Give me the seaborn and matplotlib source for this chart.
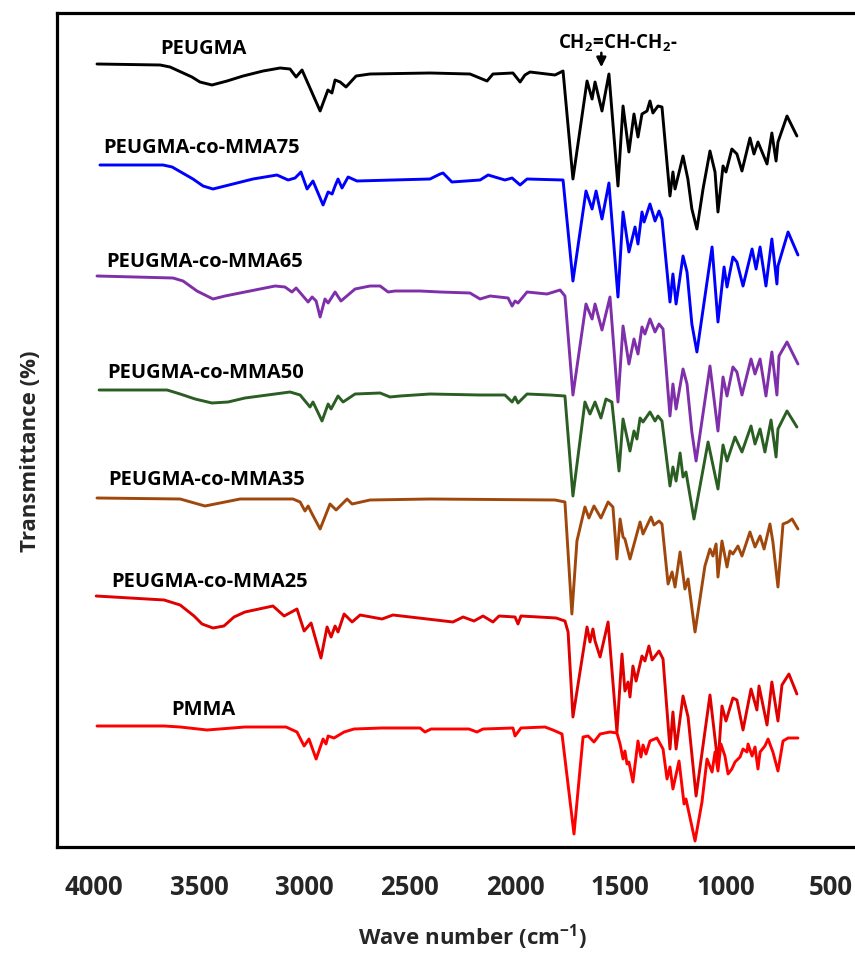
import matplotlib
matplotlib.use("Agg")
import matplotlib.pyplot as plt
import numpy as np
import pandas as pd
import seaborn as sns

# ---- FTIR spectra (wavenumber in cm^-1, transmittance in offset a.u.) ----
peugma_wn = [3986, 3686, 3639, 3535, 3497, 3440, 3368, 3292, 3197, 3116, 3069, 3040, 3012, 2926,
             2889, 2870, 2855, 2831, 2803, 2755, 2689, 2404, 2214, 2133, 2105, 2010, 1976, 1953,
             1929, 1810, 1772, 1725, 1658, 1634, 1620, 1587, 1554, 1511, 1487, 1459, 1435, 1416,
             1397, 1373, 1359, 1345, 1321, 1302, 1264, 1250, 1240, 1202, 1179, 1160, 1136, 1107,
             1074, 1050, 1036, 1012, 998, 970, 946, 922, 884, 865, 846, 803, 780, 760, 751, 708,
             661]
peugma_t = [785, 784, 782, 772, 767, 764, 768, 773, 778, 781, 780, 772, 779, 738,
            759, 756, 769, 767, 762, 773, 775, 776, 775, 768, 775, 776, 767, 774,
            777, 774, 778, 670, 768, 750, 767, 738, 775, 663, 743, 697, 735, 712,
            735, 738, 748, 736, 743, 742, 653, 677, 660, 693, 670, 640, 620, 660,
            698, 677, 637, 683, 677, 700, 695, 678, 711, 695, 707, 685, 716, 688, 707, 733,
            713]

mma75_wn = [3972, 3672, 3629, 3530, 3482, 3435, 3340, 3245, 3131, 3078, 3045, 3017, 2988, 2960,
            2912, 2888, 2869, 2855, 2841, 2822, 2793, 2751, 2404, 2356, 2342, 2300, 2166, 2128,
            2048, 2014, 1976, 1943, 1772, 1725, 1663, 1634, 1615, 1587, 1554, 1511, 1487, 1459,
            1430, 1416, 1397, 1387, 1359, 1335, 1316, 1302, 1264, 1250, 1235, 1202, 1183, 1160,
            1136, 1064, 1036, 1007, 993, 965, 946, 917, 874, 855, 836, 808, 780, 756, 751, 703,
            656]
mma75_t = [684, 684, 682, 670, 663, 660, 665, 670, 674, 669, 671, 677, 660, 668,
           644, 657, 655, 663, 670, 661, 672, 668, 670, 675, 676, 667, 669, 674,
           669, 671, 664, 670, 669, 568, 658, 640, 658, 630, 666, 552, 637, 597,
           622, 605, 637, 627, 645, 628, 638, 630, 547, 575, 545, 593, 577, 525,
           497, 602, 527, 582, 562, 592, 587, 563, 600, 580, 602, 563, 610, 565, 583, 617,
           594]

mma65_wn = [3986, 3625, 3577, 3511, 3435, 3378, 3283, 3140, 3093, 3060, 3040, 2983, 2964, 2945,
            2926, 2903, 2888, 2855, 2827, 2760, 2689, 2641, 2603, 2570, 2451, 2356, 2214, 2166,
            2119, 2033, 2014, 2000, 1986, 1943, 1848, 1786, 1763, 1725, 1663, 1634, 1620, 1587,
            1549, 1511, 1487, 1459, 1435, 1416, 1397, 1383, 1359, 1335, 1316, 1297, 1264, 1250,
            1235, 1202, 1183, 1160, 1140, 1074, 1036, 1012, 993, 965, 946, 922, 879, 860, 836,
            808, 780, 756, 746, 708, 656]
mma65_t = [573, 571, 568, 558, 550, 553, 557, 563, 562, 557, 561, 547, 552, 548,
           532, 550, 546, 557, 548, 560, 563, 563, 557, 558, 558, 557, 556, 550,
           553, 551, 543, 548, 546, 557, 555, 559, 553, 454, 545, 530, 545, 519,
           552, 447, 523, 485, 510, 495, 522, 515, 530, 517, 525, 520, 433, 465,
           440, 480, 465, 417, 388, 483, 418, 472, 453, 482, 477, 454, 490, 475, 490,
           453, 497, 454, 493, 507, 485]

mma50_wn = [3976, 3653, 3591, 3520, 3440, 3363, 3283, 3069, 3021, 2974, 2960, 2917, 2888, 2874,
            2841, 2817, 2760, 2641, 2594, 2546, 2404, 2166, 2048, 2014, 2000, 1986, 1943, 1834,
            1763, 1725, 1668, 1644, 1620, 1592, 1568, 1540, 1506, 1487, 1454, 1435, 1421, 1406,
            1392, 1359, 1335, 1321, 1302, 1264, 1250, 1235, 1216, 1202, 1188, 1150, 1083, 1036,
            1012, 993, 955, 922, 879, 860, 836, 813, 784, 760, 751, 708, 661]
mma50_t = [459, 459, 455, 450, 446, 447, 451, 457, 454, 442, 447, 428, 445, 440,
           453, 447, 455, 456, 452, 453, 455, 454, 454, 447, 452, 446, 455, 454,
           453, 353, 447, 435, 447, 431, 450, 447, 378, 430, 398, 418, 410, 431,
           427, 437, 428, 433, 428, 363, 382, 368, 396, 372, 377, 330, 407, 360,
           404, 388, 412, 397, 423, 405, 420, 397, 429, 392, 420, 438, 422]

mma35_wn = [3986, 3591, 3473, 3306, 3055, 3021, 2998, 2983, 2964, 2926, 2879, 2850, 2798, 2774,
            2689, 2404, 1810, 1763, 1730, 1706, 1668, 1649, 1625, 1592, 1558, 1535, 1516, 1501,
            1487, 1478, 1454, 1406, 1392, 1354, 1340, 1316, 1302, 1273, 1254, 1240, 1216, 1193,
            1178, 1145, 1098, 1074, 1060, 1045, 1036, 1017, 993, 979, 965, 941, 922, 884, 860,
            836, 817, 789, 775, 751, 727, 703, 684, 656]
mma35_t = [351, 350, 343, 350, 350, 347, 338, 343, 335, 320, 345, 339, 350, 345,
           349, 350, 349, 347, 235, 308, 342, 331, 343, 331, 347, 342, 290, 330,
           312, 310, 290, 327, 315, 332, 324, 328, 325, 265, 277, 262, 297, 260,
           270, 217, 283, 300, 293, 305, 272, 308, 282, 298, 295, 303, 293, 317, 302,
           313, 300, 325, 307, 262, 325, 327, 330, 320]

mma25_wn = [3990, 3667, 3591, 3525, 3487, 3435, 3383, 3335, 3283, 3150, 3097, 3036, 3002, 2969,
            2922, 2893, 2874, 2855, 2841, 2812, 2774, 2736, 2632, 2580, 2295, 2247, 2195, 2152,
            2105, 2076, 2000, 1986, 1972, 1805, 1763, 1748, 1725, 1658, 1644, 1630, 1620, 1596,
            1558, 1516, 1492, 1478, 1463, 1454, 1440, 1425, 1397, 1383, 1364, 1349, 1316, 1297,
            1264, 1250, 1235, 1202, 1178, 1140, 1074, 1036, 1017, 998, 965, 946, 917, 879, 851,
            841, 803, 780, 751, 732, 699, 661]
mma25_t = [253, 249, 244, 233, 225, 221, 223, 232, 237, 243, 233, 240, 218, 226,
           191, 222, 212, 223, 217, 235, 227, 234, 230, 234, 227, 232, 228, 233,
           227, 233, 232, 225, 233, 231, 228, 217, 132, 222, 207, 220, 208, 192,
           227, 117, 195, 158, 167, 152, 183, 168, 193, 188, 203, 189, 198, 190,
           100, 137, 100, 153, 132, 53, 154, 85, 143, 128, 151, 149, 119, 160, 139,
           163, 124, 167, 128, 164, 175, 155]

pmma_wn = [3986, 3667, 3591, 3463, 3283, 3088, 3036, 3002, 2979, 2945, 2912, 2898, 2888, 2860,
           2812, 2765, 2632, 2451, 2428, 2399, 2219, 2181, 2152, 2010, 2000, 1972, 1858, 1820,
           1777, 1720, 1677, 1653, 1625, 1596, 1549, 1516, 1501, 1487, 1478, 1468, 1459, 1440,
           1416, 1402, 1392, 1378, 1359, 1326, 1297, 1278, 1264, 1250, 1221, 1197, 1188, 1145,
           1112, 1088, 1064, 1050, 1036, 1022, 1003, 988, 970, 955, 931, 917, 898, 893, 874,
           860, 846, 836, 813, 798, 775, 751, 727, 703, 656]
pmma_t = [123, 123, 122, 119, 122, 122, 117, 103, 110, 90, 110, 105, 113, 111,
          117, 120, 121, 121, 117, 120, 120, 117, 120, 121, 113, 121, 122, 119,
          115, 15, 112, 113, 107, 115, 117, 116, 105, 90, 98, 85, 87, 67,
          108, 92, 104, 95, 108, 111, 100, 70, 82, 60, 88, 45, 50, 8,
          47, 90, 77, 97, 78, 105, 93, 75, 80, 87, 92, 100, 97, 105, 93,
          102, 80, 97, 103, 110, 97, 78, 108, 111, 111]

samples = ["PEUGMA", "PEUGMA-co-MMA75", "PEUGMA-co-MMA65", "PEUGMA-co-MMA50",
           "PEUGMA-co-MMA35", "PEUGMA-co-MMA25", "PMMA"]
spectra = [(peugma_wn, peugma_t), (mma75_wn, mma75_t), (mma65_wn, mma65_t),
           (mma50_wn, mma50_t), (mma35_wn, mma35_t), (mma25_wn, mma25_t),
           (pmma_wn, pmma_t)]
colors = ["#000000", "#0000FF", "#7F2FAA", "#2A5E22", "#A0470C", "#E00000", "#FF0000"]

x_ticks = [4000, 3500, 3000, 2500, 2000, 1500, 1000, 500]

# ---- long-form table ----
frames = []
for name, (wn, t) in zip(samples, spectra):
    frames.append(pd.DataFrame({"wavenumber": wn, "transmittance": t, "sample": name}))
df = pd.concat(frames, ignore_index=True)

# ---- styling ----
sns.set_style("white")
plt.rcParams["font.family"] = ["Open Sans", "DejaVu Sans"]
plt.rcParams["font.weight"] = "bold"
plt.rcParams["mathtext.fontset"] = "custom"
plt.rcParams["mathtext.rm"] = "Open Sans:bold"
plt.rcParams["mathtext.bf"] = "Open Sans:bold"
plt.rcParams["mathtext.default"] = "bf"

W, H = 855, 954
fig = plt.figure(figsize=(W / 100, H / 100), dpi=100)
ax = fig.add_axes([57 / W, 1 - 848 / H, (875 - 57) / W, (848 - 14) / H])

sns.lineplot(data=df, x="wavenumber", y="transmittance", hue="sample",
             palette=dict(zip(samples, colors)), hue_order=samples,
             estimator=None, sort=False, legend=False, linewidth=2.1, ax=ax)
for line in ax.get_lines():
    line.set_solid_joinstyle("round")
    line.set_solid_capstyle("round")

ax.set_xlim(4176, 290)
ax.set_ylim(2, 836)
ax.set_xticks(x_ticks)
ax.set_xticklabels([str(v) for v in x_ticks], fontsize=18.5, fontweight="bold")
ax.set_yticks([])
ax.tick_params(axis="x", direction="out", length=14, width=2.2, pad=5, color="black")
ax.set_xlabel("")
ax.set_ylabel("")
for side in ["left", "right", "top", "bottom"]:
    ax.spines[side].set_visible(True)
    ax.spines[side].set_linewidth(2.3)
    ax.spines[side].set_color("black")

# ---- sample labels ----
label_pos = {
    "PEUGMA": (3686, 801),
    "PEUGMA-co-MMA75": (3957, 702),
    "PEUGMA-co-MMA65": (3943, 588),
    "PEUGMA-co-MMA50": (3938, 477),
    "PEUGMA-co-MMA35": (3933, 370),
    "PEUGMA-co-MMA25": (3919, 268),
    "PMMA": (3634, 140),
}
for name in samples:
    x, y = label_pos[name]
    ax.text(x, y, name, ha="left", va="center", fontsize=14.5, fontweight="bold", color="black")

# allyl C=C band marker
ax.text(1796, 807, r"CH$_2$=CH-CH$_2$-", ha="left", va="center", fontsize=13.5,
        fontweight="bold", color="black")
ax.annotate("", xy=(1590, 779), xytext=(1590, 799),
            arrowprops=dict(arrowstyle="-|>", color="black", lw=1.8, mutation_scale=14))

# axis titles
fig.text(472 / W, 1 - 937 / H, r"Wave number (cm$^{-1}$)", ha="center", va="center",
         fontsize=16, fontweight="bold")
fig.text(30 / W, 1 - 451 / H, "Transmittance (%)", ha="center", va="center",
         rotation=90, fontsize=16, fontweight="bold")

fig.savefig("out.png", dpi=100)
